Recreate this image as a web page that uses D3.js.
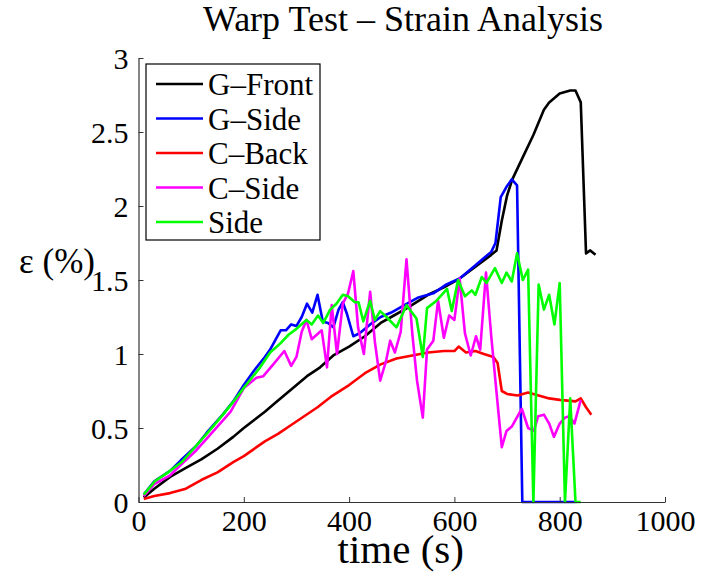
<!DOCTYPE html>
<html>
<head>
<meta charset="utf-8">
<script src="https://cdn.jsdelivr.net/npm/d3@7"></script>
<style>
  body { margin: 0; background: #fff; }
  text { font-family: "Liberation Serif", "Times New Roman", serif; fill: #000; }
</style>
</head>
<body>
<div id="chart"></div>
<script>
// values, [time (s), strain (%)]
const gFront = [[10,0.03],[30,0.09],[60,0.17],[90,0.23],[120,0.29],[150,0.36],[180,0.44],[200,0.50],
  [240,0.61],[260,0.67],[290,0.76],[320,0.85],[345,0.91],[370,0.99],[400,1.05],[430,1.12],[460,1.21],
  [480,1.25],[510,1.31],[550,1.40],[580,1.45],[610,1.51],[640,1.59],[670,1.67],[680,1.70],[690,1.90],
  [700,2.07],[710,2.18],[730,2.33],[750,2.48],[770,2.65],[780,2.70],[800,2.76],[820,2.78],[830,2.78],
  [840,2.70],[850,1.68],[858,1.70],[868,1.67]];

const gSide = [[10,0.05],[30,0.14],[60,0.21],[80,0.28],[110,0.38],[130,0.47],[160,0.59],[180,0.68],
  [200,0.79],[220,0.89],[240,0.98],[250,1.03],[270,1.16],[280,1.16],[290,1.20],[300,1.19],[310,1.25],
  [320,1.34],[330,1.28],[340,1.40],[350,1.22],[360,1.21],[370,1.18],[380,1.30],[388,1.35],[396,1.27],
  [408,1.12],[420,1.14],[440,1.20],[460,1.25],[480,1.28],[510,1.34],[530,1.38],[560,1.41],[585,1.47],
  [610,1.51],[640,1.60],[660,1.66],[670,1.69],[678,1.75],[688,2.06],[699,2.13],[709,2.18],[719,2.14],
  [729,0],[830,0]];

const cBack = [[10,0.02],[30,0.04],[60,0.06],[90,0.09],[120,0.15],[150,0.20],[180,0.27],[200,0.31],
  [240,0.41],[265,0.46],[290,0.52],[340,0.64],[365,0.71],[400,0.79],[430,0.87],[460,0.93],[490,0.97],
  [520,0.99],[550,1.01],[580,1.02],[600,1.02],[608,1.05],[622,1.01],[640,1.02],[656,1.00],[674,0.98],
  [682,0.94],[690,0.75],[700,0.73],[720,0.72],[740,0.74],[760,0.72],[780,0.70],[800,0.69],[830,0.68],
  [840,0.70],[850,0.64],[860,0.59]];

const cSide = [[10,0.04],[30,0.12],[60,0.18],[80,0.25],[110,0.35],[130,0.43],[160,0.55],[175,0.61],
  [200,0.77],[224,0.84],[237,0.85],[256,0.93],[277,1.02],[290,0.92],[300,0.98],[310,1.15],[319,1.23],
  [329,1.10],[348,1.16],[358,0.91],[367,1.33],[377,1.00],[388,1.34],[398,1.41],[408,1.56],[417,1.18],
  [428,1.00],[440,1.42],[449,1.08],[459,0.82],[470,0.95],[478,1.09],[487,1.01],[498,1.15],[509,1.64],
  [520,1.14],[529,0.82],[540,0.57],[548,1.03],[560,1.09],[569,1.36],[580,1.11],[590,1.26],[600,1.23],
  [610,1.51],[620,1.14],[631,0.99],[641,1.12],[649,1.03],[660,1.55],[670,1.12],[680,0.74],[690,0.37],
  [699,0.48],[709,0.51],[728,0.63],[740,0.50],[751,0.48],[759,0.58],[770,0.59],[780,0.53],[789,0.44],
  [800,0.53],[810,0.57],[818,0.58],[828,0.53],[840,0.69]];

const side = [[10,0.05],[31,0.14],[56,0.20],[82,0.27],[107,0.37],[132,0.47],[158,0.58],[183,0.69],
  [202,0.78],[231,0.91],[250,1.01],[269,1.07],[285,1.13],[300,1.17],[319,1.23],[329,1.20],[341,1.26],
  [351,1.21],[364,1.30],[376,1.34],[388,1.40],[398,1.39],[411,1.35],[418,1.35],[427,1.22],[440,1.36],
  [449,1.23],[459,1.29],[471,1.25],[490,1.18],[509,1.33],[528,1.24],[540,0.98],[548,1.31],[566,1.36],
  [576,1.40],[586,1.44],[595,1.29],[607,1.50],[620,1.39],[633,1.43],[640,1.40],[652,1.52],[661,1.48],
  [677,1.58],[690,1.48],[699,1.55],[709,1.49],[719,1.68],[730,1.50],[740,1.57],[750,0],[760,1.47],
  [770,1.30],[780,1.40],[790,1.20],[800,1.48],[810,0],[820,0.70],[830,0],[840,0]];

const seriesNames = ["G\u2013Front", "G\u2013Side", "C\u2013Back", "C\u2013Side", "Side"];
const seriesColors = ["#000000", "#0000ff", "#ff0000", "#ff00ff", "#00ff00"];
const xTicks = [0, 200, 400, 600, 800, 1000];
const yTicks = [0, 0.5, 1, 1.5, 2, 2.5, 3];

const width = 701, height = 577;
const margin = {top: 58, right: 36, bottom: 75, left: 138.5};
const innerWidth = width - margin.left - margin.right;
const innerHeight = height - margin.top - margin.bottom;

const svg = d3.select("#chart")
    .append("svg")
    .attr("width", width)
    .attr("height", height);

const g = svg.append("g")
    .attr("transform", `translate(${margin.left},${margin.top})`);

const x = d3.scaleLinear().domain([0, 1000]).range([0, innerWidth]);
const y = d3.scaleLinear().domain([0, 3]).range([innerHeight, 0]);

const line = d3.line()
    .x(d => x(d[0]))
    .y(d => y(d[1]));

const allSeries = [gFront, gSide, cBack, cSide, side];

g.selectAll(".series")
    .data(allSeries)
    .enter()
    .append("path")
    .attr("class", "series")
    .attr("d", d => line(d))
    .attr("fill", "none")
    .attr("stroke", (d, i) => seriesColors[i])
    .attr("stroke-width", 2.6)
    .attr("stroke-linejoin", "round");

// axes: left and bottom only, ticks pointing inward
const xAxis = g.append("g")
    .attr("transform", `translate(0,${innerHeight})`)
    .call(d3.axisBottom(x).tickValues(xTicks).tickSizeInner(-5).tickSizeOuter(0).tickPadding(12)
        .tickFormat(d => String(d)));

const yAxis = g.append("g")
    .call(d3.axisLeft(y).tickValues(yTicks).tickSizeInner(-5).tickSizeOuter(0).tickPadding(10)
        .tickFormat(d => String(d)));

[xAxis, yAxis].forEach(a => {
    a.attr("font-family", '"Liberation Serif", serif');
    a.select(".domain").attr("stroke", "#333").attr("stroke-width", 1.2);
    a.selectAll(".tick line").attr("stroke", "#333");
    a.selectAll("text")
        .style("font-family", '"Liberation Serif", serif')
        .style("font-size", "30px")
        .attr("fill", "#000");
});
xAxis.selectAll("text").attr("dy", "0.71em").attr("y", 8);
yAxis.selectAll("text").attr("dy", "0.34em");

svg.append("text")
    .attr("x", 403)
    .attr("y", 31)
    .attr("text-anchor", "middle")
    .style("font-size", "36px")
    .text("Warp Test \u2013 Strain Analysis");

svg.append("text")
    .attr("x", margin.left + innerWidth / 2 - 1)
    .attr("y", 563)
    .attr("text-anchor", "middle")
    .style("font-size", "41px")
    .text("time (s)");

svg.append("text")
    .attr("x", 57)
    .attr("y", 273)
    .attr("text-anchor", "middle")
    .style("font-size", "35px")
    .text("\u03b5 (%)");

// legend
const legend = svg.append("g")
    .attr("transform", "translate(146,64)");

legend.append("rect")
    .attr("width", 174)
    .attr("height", 176)
    .attr("fill", "#fff")
    .attr("stroke", "#000")
    .attr("stroke-width", 1.2);

const legendItems = legend.selectAll(".legend-item")
    .data(seriesNames)
    .enter()
    .append("g")
    .attr("class", "legend-item")
    .attr("transform", (d, i) => `translate(0, ${20 + i * 34.5})`);

legendItems.append("line")
    .attr("x1", 10)
    .attr("x2", 57)
    .attr("stroke", (d, i) => seriesColors[i])
    .attr("stroke-width", 2.6);

legendItems.append("text")
    .attr("x", 62)
    .attr("y", 11)
    .style("font-size", "31px")
    .text(d => d);
</script>
</body>
</html>
